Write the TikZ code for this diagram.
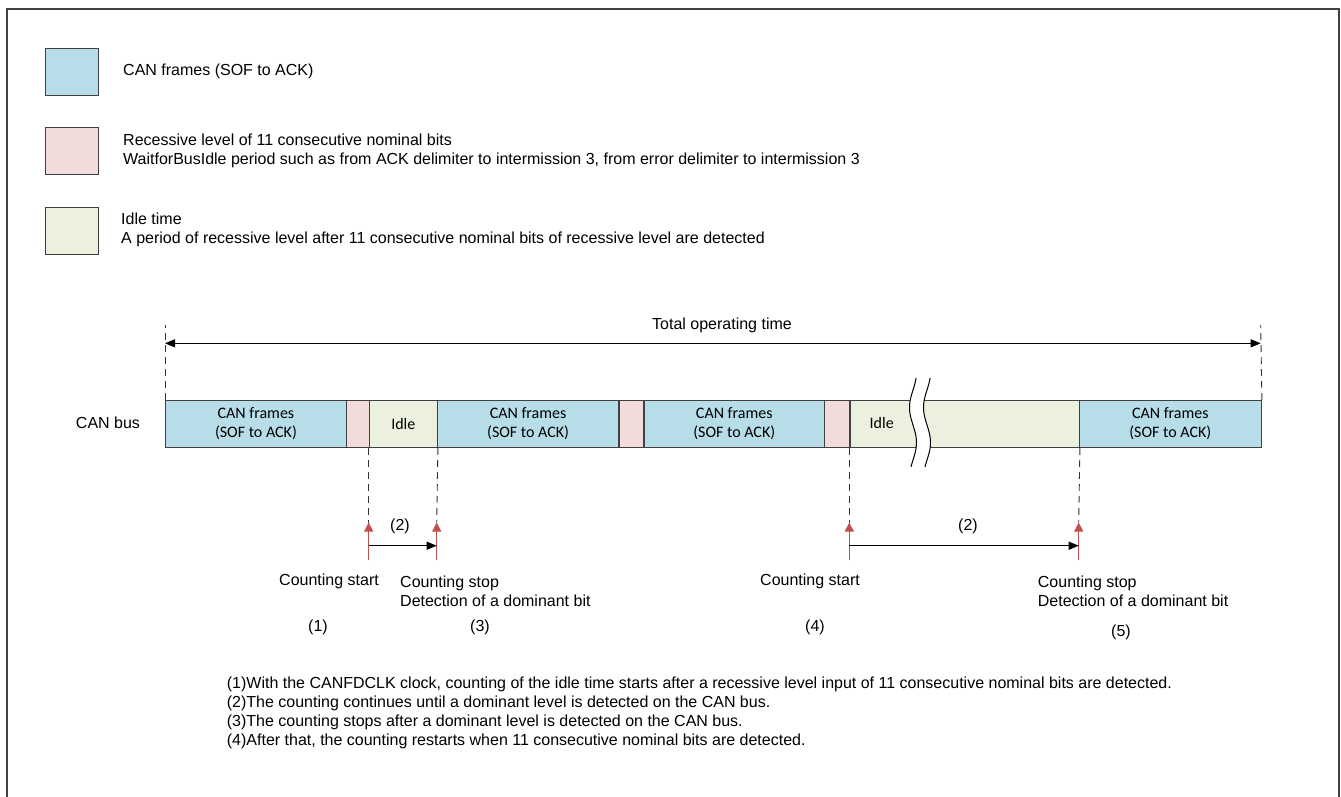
\documentclass[tikz,border=0pt]{standalone}
\usepackage{fontspec}
\setmainfont{Liberation Sans}
\newfontfamily\calib{Carlito}
\usetikzlibrary{arrows.meta}
\definecolor{canblue}{HTML}{B7DDE8}
\definecolor{recpink}{HTML}{F2DCDB}
\definecolor{idlegreen}{HTML}{EBF1DE}
\definecolor{edge}{HTML}{404040}
\definecolor{cntred}{HTML}{C0504D}
\begin{document}
\begin{tikzpicture}[x=1pt,y=-1pt,
  seg/.style={draw=edge,line width=1.2pt,minimum height=46.7pt,inner sep=0pt,anchor=north west,align=center,font=\calib\fontsize{16}{19}\selectfont},
  legbox/.style={draw=edge,line width=1.2pt,minimum width=53pt,minimum height=47pt,inner sep=0pt,anchor=north west},
  txt/.style={inner sep=0pt,font=\fontsize{16}{19}\selectfont,align=left},
  notetxt/.style={inner sep=0pt,font=\fontsize{16}{19}\selectfont,align=left,anchor=west},
  guide/.style={dashed,dash pattern=on 7pt off 5pt,line width=0.9pt,draw=black!80},
  spanarrow/.style={line width=1pt,-{Triangle[length=10pt,width=8pt]}},
  cntmark/.style={draw=cntred,line width=0.9pt,-{Triangle[length=9pt,width=9pt]}},
  wave/.style={line width=1pt}
]
\useasboundingbox (0,0) rectangle (1341,796);
% frame (open at bottom)
\draw[edge,line width=2pt] (7,800) -- (7,9) -- (1339,9) -- (1339,800);

% legend
\node[legbox,fill=canblue] (lb1) at (45,48) {};
\node[legbox,fill=recpink] (lb2) at (45,127) {};
\node[legbox,fill=idlegreen] (lb3) at (45,207) {};
\node[txt,anchor=west] (lt1) at (123,71) {CAN frames (SOF to ACK)};
\node[txt,anchor=west] (lt2) at (123,150.5) {Recessive level of 11 consecutive nominal bits\\WaitforBusIdle period such as from ACK delimiter to intermission 3, from error delimiter to intermission 3};
\node[txt,anchor=west] (lt3) at (121,229.5) {Idle time\\A period of recessive level after 11 consecutive nominal bits of recessive level are detected};

% bus
\node[txt] (busl) at (108,423) {CAN bus};
\node[seg,fill=canblue,minimum width=180.7pt] (f1) at (165,400) {CAN frames\\(SOF to ACK)};
\node[seg,fill=recpink,minimum width=23pt] (r1) at (345.7,400) {};
\node[seg,fill=idlegreen,minimum width=68pt] (i1) at (368.7,400) {Idle};
\node[seg,fill=canblue,minimum width=181.6pt] (f2) at (436.7,400) {CAN frames\\(SOF to ACK)};
\node[seg,fill=recpink,minimum width=25pt] (r2) at (618.3,400) {};
\node[seg,fill=canblue,minimum width=180.7pt] (f3) at (643.3,400) {CAN frames\\(SOF to ACK)};
\node[seg,fill=recpink,minimum width=25.3pt] (r3) at (824,400) {};
\node[seg,fill=idlegreen,minimum width=229.4pt] (i2) at (849.3,400) {};
\node[seg,fill=canblue,minimum width=182pt] (f4) at (1078.7,400) {CAN frames\\(SOF to ACK)};
\node[inner sep=0pt,font=\calib\fontsize{16}{19}\selectfont] (idletxt) at (881.7,423.3) {Idle};

% break marks
\fill[white] plot[domain=378:467,samples=40,variable=\t] ({913-3.5*sin((\t-390)*5.142857)},\t)
  -- plot[domain=467:378,samples=40,variable=\t] ({927-3.5*sin((\t-390)*5.142857)},\t) -- cycle;
\draw[wave] plot[domain=378:467,samples=40,variable=\t] ({913-3.5*sin((\t-390)*5.142857)},\t);
\draw[wave] plot[domain=378:467,samples=40,variable=\t] ({927-3.5*sin((\t-390)*5.142857)},\t);

% total operating time
\coordinate (tl) at (165,325);
\coordinate (tr) at (1260.7,325);
\coordinate (al) at (165,343.3);
\coordinate (ar) at (1260.7,343.3);
\draw[guide] (f1.north west) -- (tl);
\draw[guide] (f4.north east) -- (tr);
\draw[line width=1pt,{Triangle[length=10pt,width=8pt]}-{Triangle[length=10pt,width=8pt]}] (al) -- (ar);
\node[txt] (total) at (722,325) {Total operating time};

% counting marks
\coordinate (m1t) at (368.7,522.5);
\coordinate (m1b) at (368.7,560);
\coordinate (m2t) at (436.7,522.5);
\coordinate (m2b) at (436.7,560);
\coordinate (m3t) at (849.3,522.5);
\coordinate (m3b) at (849.3,560);
\coordinate (m4t) at (1078.7,522.5);
\coordinate (m4b) at (1078.7,560);
\draw[guide] (i1.south west) -- (m1t);
\draw[guide] (i1.south east) -- (m2t);
\draw[guide] (i2.south west) -- (m3t);
\draw[guide] (i2.south east) -- (m4t);
\draw[cntmark] (m1b) -- (m1t);
\draw[cntmark] (m2b) -- (m2t);
\draw[cntmark] (m3b) -- (m3t);
\draw[cntmark] (m4b) -- (m4t);
\coordinate (c1a) at (368.7,545.7);
\coordinate (c1b) at (436.7,545.7);
\coordinate (c2a) at (849.3,545.7);
\coordinate (c2b) at (1078.7,545.7);
\draw[spanarrow] (c1a) -- (c1b);
\draw[spanarrow] (c2a) -- (c2b);
\node[txt] (n2a) at (400,526) {(2)};
\node[txt] (n2b) at (968,526) {(2)};

% counting labels
\node[txt,anchor=west] (cs1) at (279,581.5) {Counting start};
\node[txt,anchor=west] (cp1) at (400,591.5) {Counting stop\\Detection of a dominant bit};
\node[txt,anchor=west] (cs2) at (760,581.5) {Counting start};
\node[txt,anchor=west] (cp2) at (1037.7,591.5) {Counting stop\\Detection of a dominant bit};
\node[txt] (k1) at (318,627) {(1)};
\node[txt] (k3) at (480,627) {(3)};
\node[txt] (k4) at (815,627) {(4)};
\node[txt] (k5) at (1121,632) {(5)};

% notes
\node[notetxt] (notes) at (226.7,712.5) {(1)With the CANFDCLK clock, counting of the idle time starts after a recessive level input of 11 consecutive nominal bits are detected.\\
(2)The counting continues until a dominant level is detected on the CAN bus.\\
(3)The counting stops after a dominant level is detected on the CAN bus.\\
(4)After that, the counting restarts when 11 consecutive nominal bits are detected.};
\end{tikzpicture}
\end{document}
